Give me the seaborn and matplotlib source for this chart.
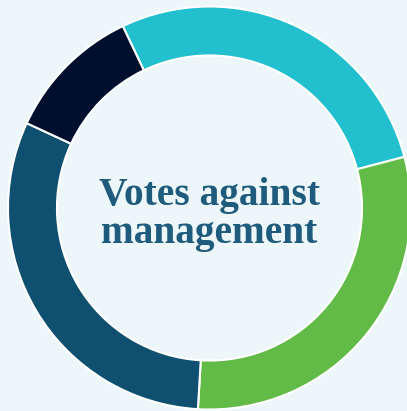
import matplotlib
matplotlib.use("Agg")
import matplotlib.pyplot as plt
import seaborn as sns

categories = ["Segment A", "Segment B", "Segment C", "Segment D"]
values = [28, 30, 31, 11]
colors = ["#22BFCE", "#62BB46", "#0F5070", "#000F2E"]
title_lines = ["Votes against", "management"]

sns.set_theme(style="white")
bg = "#EDF7FA"
palette = sns.color_palette(colors)

W, H = 407, 411
cx, cy, R = 209.5, 208.0, 201.5

fig = plt.figure(figsize=(W / 100, H / 100), dpi=100, facecolor=bg)
ax = fig.add_axes([0, 0, 1, 1])
ax.set_facecolor(bg)

ax.pie(values, colors=palette, startangle=115.5, counterclock=False,
       radius=1.0, wedgeprops=dict(width=0.243, edgecolor="white", linewidth=1.5))

ax.set_xlim(-cx / R, (W - cx) / R)
ax.set_ylim(-(H - cy) / R, cy / R)
ax.set_aspect("auto")
ax.axis("off")

txt_color = "#1F5B7D"
ax.text(0, (cy - 205) / R, title_lines[0], ha="center", va="baseline",
        fontsize=28.4, fontweight="bold", family="Liberation Serif", color=txt_color)
ax.text(0, (cy - 243) / R, title_lines[1], ha="center", va="baseline",
        fontsize=28.4, fontweight="bold", family="Liberation Serif", color=txt_color)

fig.savefig("out.png", dpi=100, facecolor=bg)
